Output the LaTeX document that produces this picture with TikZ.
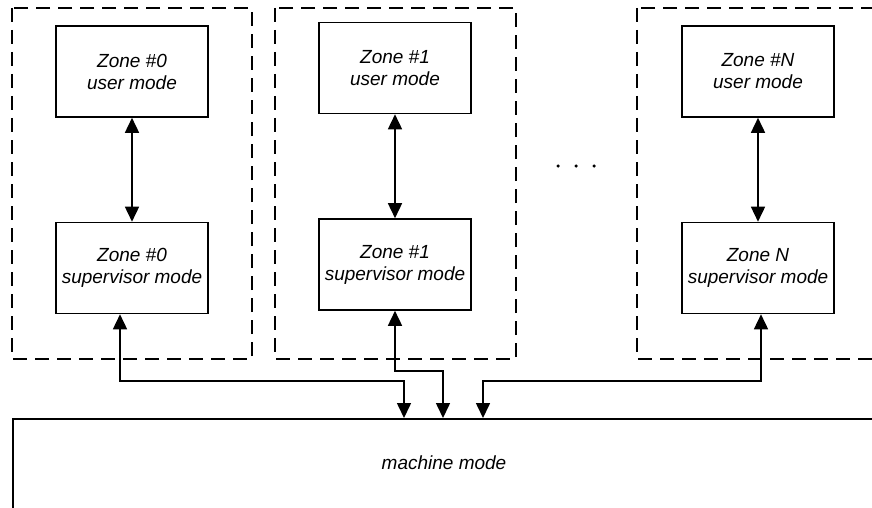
\documentclass[tikz,border=0pt]{standalone}
\usepackage{fontspec}
\setmainfont{Liberation Sans}
\usetikzlibrary{arrows.meta}
\tikzset{
  modebox/.style={draw, line width=1.6pt, minimum width=152pt, minimum height=91pt,
    align=center, inner sep=0pt, font=\fontsize{19}{22}\selectfont\itshape},
  zonebox/.style={draw, line width=1.8pt, dash pattern=on 14pt off 8pt},
  tip/.tip={Triangle[length=15pt,width=14pt]},
  biconn/.style={line width=1.6pt, tip-tip},
  dotmark/.style={circle, fill, inner sep=0pt, minimum size=3.5pt}
}
\begin{document}
\begin{tikzpicture}[x=1pt,y=-1pt]
\useasboundingbox (0,0) rectangle (872,508);
% zone dashed boxes
\draw[zonebox] (12,8) rectangle (252,359);
\draw[zonebox] (275,8) rectangle (516,359);
\draw[zonebox] (637,8) rectangle (900,359);
% dots
\node[dotmark] (d1) at (558,166) {};
\node[dotmark] (d2) at (576,166) {};
\node[dotmark] (d3) at (594,166) {};
% mode boxes
\node[modebox] (u0) at (132,71.5) {Zone \#0\\user mode};
\node[modebox] (s0) at (132,268) {Zone \#0\\supervisor mode};
\node[modebox] (u1) at (395,68) {Zone \#1\\user mode};
\node[modebox] (s1) at (395,264.5) {Zone \#1\\supervisor mode};
\node[modebox] (uN) at (758,71.5) {Zone \#N\\user mode};
\node[modebox] (sN) at (758,268) {Zone N\\supervisor mode};
% machine mode
\node[draw, line width=1.6pt, minimum width=900pt, minimum height=120pt, anchor=north west,
  inner sep=0pt] (m) at (12,418) {};
\node[font=\fontsize{19}{22}\selectfont\itshape] (mt) at (444,463) {machine mode};
% user/supervisor arrows
\draw[biconn] (u0) -- (s0);
\draw[biconn] (u1) -- (s1);
\draw[biconn] (uN) -- (sN);
% bus connectors
\coordinate (m0) at (404,418);
\coordinate (m1) at (443,418);
\coordinate (mN) at (483,418);
\draw[biconn] (m0) |- (120,381) -- (s0.south -| 120,0);
\draw[biconn] (m1) |- (395,371) -- (s1.south);
\draw[biconn] (mN) |- (761,381) -- (sN.south -| 761,0);
\end{tikzpicture}
\end{document}
